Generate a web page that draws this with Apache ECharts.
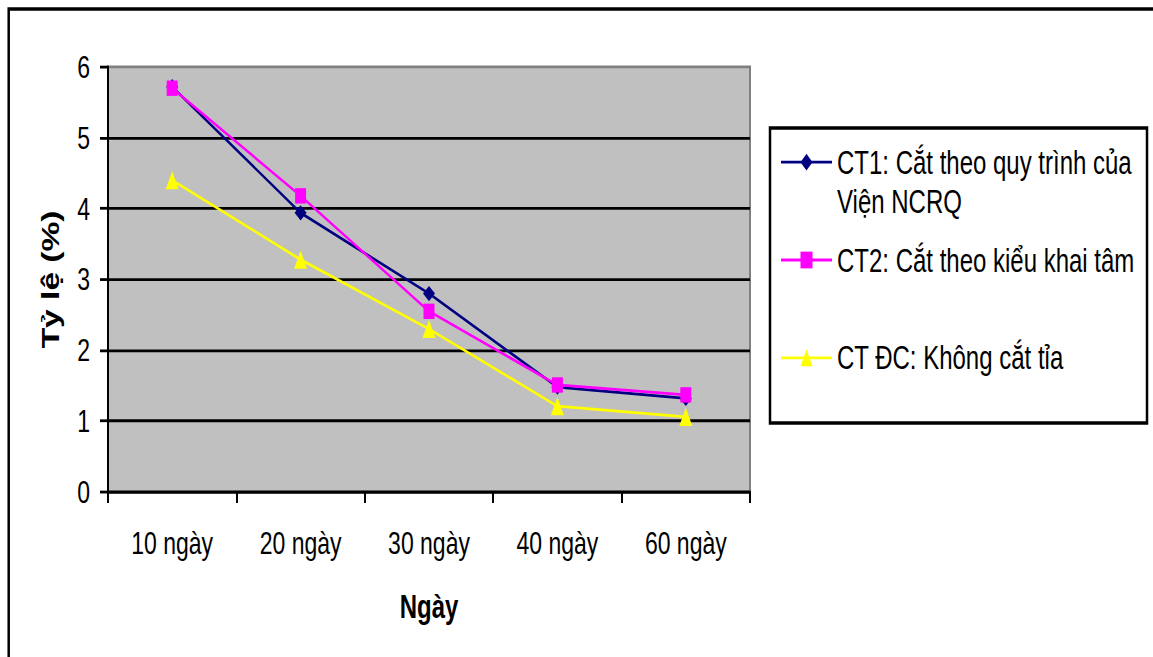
<!DOCTYPE html>
<html>
<head>
<meta charset="utf-8">
<script src="https://cdn.jsdelivr.net/npm/echarts@6/dist/echarts.min.js"></script>
<style>
  html, body { margin: 0; padding: 0; background: #fff; width: 1153px; height: 657px; overflow: hidden; }
  #wrap { width: 1153px; height: 657px; overflow: hidden; position: relative; }
  /* the chart is laid out on a shorter canvas and stretched vertically */
  #chart { position: absolute; left: 0; top: 0; width: 1153px; height: 470px; transform-origin: 0 0; transform: scale(1, 1.397872); }
</style>
</head>
<body>
<div id="wrap"><div id="chart"></div></div>
<script>
// categories (x axis)
const categories = ['10 ngày', '20 ngày', '30 ngày', '40 ngày', '60 ngày'];

// series values, Tỷ lệ (%)
const ct1Values  = [5.72, 3.94, 2.80, 1.48, 1.32];
const ct2Values  = [5.70, 4.18, 2.55, 1.51, 1.37];
const ctdcValues = [4.40, 3.28, 2.30, 1.21, 1.06];

// series names and their legend text
const seriesNames = [
  'CT1: Cắt theo quy trình của Viện NCRQ',
  'CT2: Cắt theo kiểu khai tâm',
  'CT ĐC: Không cắt tỉa'
];
// the leading empty line keeps the first text line level with the legend marker
const legendLabels = [
  '\nCT1: Cắt theo quy trình của\nViện NCRQ',
  'CT2: Cắt theo kiểu khai tâm',
  'CT ĐC: Không cắt tỉa'
];

// y axis range
const yMin = 0, yMax = 6, yStep = 1;

// axis titles
const yTitle = 'Tỷ lệ (%)';
const xTitle = 'Ngày';

const FONT = "'Liberation Sans', Arial, sans-serif";
const el = document.getElementById('chart');
const chart = echarts.init(el, null, { renderer: 'svg', width: 1153, height: 470 });

function legendFor(i, top) {
  return {
    data: [seriesNames[i]],
    left: 780,
    top: top,
    padding: 0,
    orient: 'vertical',
    itemWidth: 51,
    itemHeight: 15,
    selectedMode: false,
    formatter: () => legendLabels[i],
    textStyle: { fontFamily: FONT, fontSize: 24, lineHeight: 28, color: '#000' }
  };
}

const lineSeries = (i, values, color, symbol, size) => ({
  name: seriesNames[i],
  type: 'line',
  data: values,
  symbol: symbol,
  symbolSize: size,
  showSymbol: true,
  color: color,
  lineStyle: { color: color, width: 2 },
  itemStyle: { color: color },
  emphasis: { disabled: true },
  animation: false
});

chart.setOption({
  backgroundColor: '#fff',
  animation: false,
  graphic: [
    { type: 'rect', shape: { x: 8.7, y: 6.4, width: 1300, height: 600 },
      style: { fill: 'none', stroke: '#000', lineWidth: 2.5 }, silent: true },
    { type: 'rect', shape: { x: 770, y: 91.6, width: 377, height: 211 },
      style: { fill: '#fff', stroke: '#000', lineWidth: 2.5 }, silent: true }
  ],
  legend: [
    legendFor(0, 74),
    legendFor(1, 172),
    legendFor(2, 242)
  ],
  grid: {
    left: 108, right: 403, top: 47.9, bottom: 118.1,
    show: true, backgroundColor: '#C0C0C0', borderColor: '#808080', borderWidth: 2
  },
  xAxis: {
    type: 'category',
    data: categories,
    boundaryGap: true,
    name: xTitle,
    nameLocation: 'middle',
    nameGap: 70,
    nameTextStyle: { fontFamily: FONT, fontSize: 24, fontWeight: 'bold', color: '#000' },
    axisLine: { lineStyle: { color: '#000', width: 2 } },
    axisTick: { show: true, interval: 0, length: 8, lineStyle: { color: '#000', width: 2 } },
    axisLabel: { interval: 0, margin: 25, fontFamily: FONT, fontSize: 23, color: '#000' },
    splitLine: { show: false }
  },
  yAxis: {
    type: 'value',
    min: yMin, max: yMax, interval: yStep,
    name: yTitle,
    nameLocation: 'middle',
    nameRotate: 90,
    nameGap: 45,
    nameTextStyle: { fontFamily: FONT, fontSize: 24, fontWeight: 'bold', color: '#000' },
    axisLine: { show: true, lineStyle: { color: '#000', width: 2 } },
    axisTick: { show: true, length: 8, lineStyle: { color: '#000', width: 2 } },
    axisLabel: { margin: 18, fontFamily: FONT, fontSize: 23, color: '#000' },
    splitLine: { show: true, showMaxLine: false, lineStyle: { color: '#000', width: 2 } }
  },
  series: [
    lineSeries(0, ct1Values, '#000080', 'diamond', [12, 11]),
    lineSeries(1, ct2Values, '#FF00FF', 'rect', [11, 11]),
    lineSeries(2, ctdcValues, '#FFFF00', 'triangle', [13, 13])
  ]
});
</script>
</body>
</html>
